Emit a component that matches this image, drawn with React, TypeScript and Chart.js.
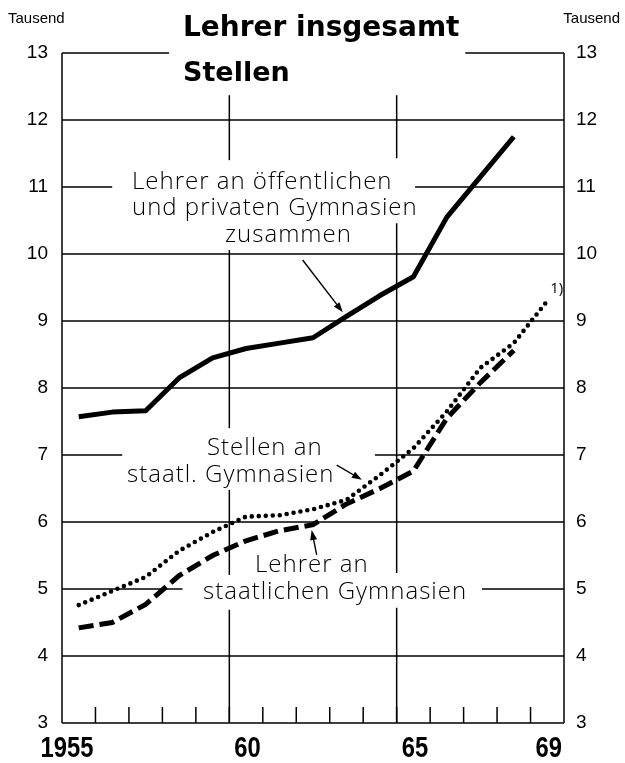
import React, { useEffect, useRef } from "react";
import { Chart, registerables } from "chart.js";

Chart.register(...registerables);

// ---- data (thousands) ----
const years = [1955, 1956, 1957, 1958, 1959, 1960, 1961, 1962, 1963, 1964, 1965, 1966, 1967, 1968, 1969];
const totalTeachers = [7.57, 7.64, 7.66, 8.15, 8.45, 8.59, 8.67, 8.75, 9.07, 9.38, 9.66, 10.55, 11.15, 11.75];
const stateTeachers = [4.42, 4.5, 4.77, 5.2, 5.5, 5.72, 5.87, 5.96, 6.27, 6.5, 6.76, 7.55, 8.08, 8.56];
const statePositions = [4.76, 4.97, 5.18, 5.57, 5.85, 6.08, 6.1, 6.19, 6.33, 6.7, 7.1, 7.65, 8.3, 8.67, 9.3];
const yTicks = [3, 4, 5, 6, 7, 8, 9, 10, 11, 12, 13];
const xLabelYears = [1955, 1960, 1965, 1969];
const xLabelTexts = ["1955", "60", "65", "69"];
const unitLabel = "Tausend";
const titleMain = "Lehrer insgesamt";
const titleSub = "Stellen";

const toPoints = (vals: number[]) => vals.map((v, i) => ({ x: years[i] + 0.5, y: v }));

// grid gaps (value units)
const hGaps: Record<number, [number, number][]> = {
  13: [[1958.2, 1967.05]],
  11: [[1956.5, 1965.55]],
  7: [[1956.8, 1964.35]],
  5: [[1958.6, 1967.55]],
};
const vLines = [
  { year: 1960, top: 12.37, gaps: [[10.06, 11.4], [6.48, 7.4], [4.69, 5.21]] as [number, number][] },
  { year: 1965, top: 12.37, gaps: [[10.46, 11.43], [4.72, 5.24]] as [number, number][] },
];

const NOTE_FONT = "'Open Sans', 'DejaVu Sans', sans-serif";
const TITLE_FONT = "'DejaVu Sans', sans-serif";

const overlay = {
  id: "overlay",
  beforeDatasetsDraw(chart: any) {
    const ctx = chart.ctx as CanvasRenderingContext2D;
    const xs = chart.scales.x;
    const ys = chart.scales.y;
    const px = (v: number) => xs.getPixelForValue(v);
    const py = (v: number) => ys.getPixelForValue(v);
    ctx.save();
    ctx.strokeStyle = "#000";
    ctx.lineWidth = 1.5;
    ctx.lineCap = "butt";
    const xmin = xs.min, xmax = xs.max;
    yTicks.forEach((t) => {
      const gaps = hGaps[t] || [];
      let start = xmin;
      const segs: [number, number][] = [];
      gaps.forEach(([a, b]) => { segs.push([start, a]); start = b; });
      segs.push([start, xmax]);
      segs.forEach(([a, b]) => {
        ctx.beginPath();
        ctx.moveTo(px(a), py(t));
        ctx.lineTo(px(b), py(t));
        ctx.stroke();
      });
    });
    [xmin, xmax].forEach((x) => {
      ctx.beginPath();
      ctx.moveTo(px(x), py(13));
      ctx.lineTo(px(x), py(3));
      ctx.stroke();
    });
    vLines.forEach((l) => {
      let top = l.top;
      const segs: [number, number][] = [];
      const gaps = [...l.gaps].sort((a, b) => b[1] - a[1]);
      gaps.forEach(([lo, hi]) => { segs.push([top, hi]); top = lo; });
      segs.push([top, 3]);
      segs.forEach(([a, b]) => {
        ctx.beginPath();
        ctx.moveTo(px(l.year), py(a));
        ctx.lineTo(px(l.year), py(b));
        ctx.stroke();
      });
    });
    for (let yr = xmin + 1; yr < xmax; yr++) {
      ctx.beginPath();
      ctx.moveTo(px(yr), py(3));
      ctx.lineTo(px(yr), py(3) - 16);
      ctx.stroke();
    }
    ctx.restore();
  },
  afterDatasetsDraw(chart: any) {
    const ctx = chart.ctx as CanvasRenderingContext2D;
    const xs = chart.scales.x;
    const ys = chart.scales.y;
    const px = (v: number) => xs.getPixelForValue(v);
    const py = (v: number) => ys.getPixelForValue(v);
    const left = chart.chartArea.left;
    const right = chart.chartArea.right;
    ctx.save();
    ctx.fillStyle = "#000";
    ctx.textBaseline = "middle";

    ctx.font = `19px 'Liberation Sans', Arial, sans-serif`;
    yTicks.forEach((t) => {
      ctx.textAlign = "right";
      ctx.fillText(String(t), left - 14, py(t));
      ctx.textAlign = "left";
      ctx.fillText(String(t), right + 12, py(t));
    });

    ctx.font = `15px 'Liberation Sans', Arial, sans-serif`;
    ctx.textAlign = "left";
    ctx.fillText(unitLabel, 8, 19);
    ctx.textAlign = "right";
    ctx.fillText(unitLabel, 620, 19);

    ctx.font = `bold 28px ${TITLE_FONT}`;
    ctx.textAlign = "left";
    ctx.fillText(titleMain, 183, 29);
    ctx.font = `bold 27px ${TITLE_FONT}`;
    ctx.fillText(titleSub, 183, 74);

    ctx.font = `bold 29px 'Liberation Sans', Arial, sans-serif`;
    ctx.textAlign = "right";
    xLabelYears.forEach((yr, i) => {
      ctx.save();
      ctx.translate(px(yr + 1) - 2, py(3) + 26);
      ctx.scale(0.82, 1);
      ctx.fillText(xLabelTexts[i], 0, 0);
      ctx.restore();
    });

    ctx.font = `300 24px ${NOTE_FONT}`;
    (ctx as any).letterSpacing = "1px";
    ctx.textAlign = "left";
    const notes: [string, number, number][] = [
      ["Lehrer an öffentlichen", 132, 182],
      ["und privaten Gymnasien", 132, 208],
      ["zusammen", 225, 235],
      ["Stellen an", 207, 448],
      ["staatl. Gymnasien", 127, 475],
      ["Lehrer an", 255, 565],
      ["staatlichen Gymnasien", 203, 592],
    ];
    notes.forEach(([s, x, y]) => ctx.fillText(s, x, y));
    (ctx as any).letterSpacing = "0px";

    ctx.font = `15px ${NOTE_FONT}`;
    ctx.fillText("1)", px(1969.5) + 3, py(9.3) - 12);

    const arrow = (x1: number, y1: number, x2: number, y2: number) => {
      const ax = px(x1), ay = py(y1), bx = px(x2), by = py(y2);
      const ang = Math.atan2(by - ay, bx - ax);
      const hl = 10, hw = 3.5;
      ctx.beginPath();
      ctx.lineWidth = 1.4;
      ctx.moveTo(ax, ay);
      ctx.lineTo(bx - Math.cos(ang) * hl * 0.8, by - Math.sin(ang) * hl * 0.8);
      ctx.stroke();
      ctx.beginPath();
      ctx.moveTo(bx, by);
      ctx.lineTo(bx - Math.cos(ang) * hl - Math.sin(ang) * hw, by - Math.sin(ang) * hl + Math.cos(ang) * hw);
      ctx.lineTo(bx - Math.cos(ang) * hl + Math.sin(ang) * hw, by - Math.sin(ang) * hl - Math.cos(ang) * hw);
      ctx.closePath();
      ctx.fill();
    };
    ctx.strokeStyle = "#000";
    arrow(1962.19, 9.91, 1963.39, 9.13);
    arrow(1963.21, 6.85, 1963.96, 6.63);
    arrow(1962.61, 5.51, 1962.46, 5.88);
    ctx.restore();
  },
};

export default function App() {
  const ref = useRef<HTMLCanvasElement | null>(null);
  useEffect(() => {
    if (!ref.current) return;
    const chart = new Chart(ref.current, {
      type: "line",
      data: {
        datasets: [
          {
            data: toPoints(totalTeachers),
            borderColor: "#000",
            borderWidth: 5,
            pointRadius: 0,
            tension: 0,
            borderJoinStyle: "round",
          },
          {
            data: toPoints(stateTeachers),
            borderColor: "#000",
            borderWidth: 5,
            borderDash: [15, 6],
            pointRadius: 0,
            tension: 0,
          },
          {
            data: toPoints(statePositions),
            borderColor: "#000",
            borderWidth: 4.6,
            borderDash: [0, 7],
            borderCapStyle: "round",
            pointRadius: 0,
            tension: 0,
          },
        ],
      },
      options: {
        responsive: false,
        maintainAspectRatio: false,
        animation: false,
        devicePixelRatio: 1,
        layout: { padding: { left: 62, right: 61, top: 53, bottom: 40 } },
        plugins: { legend: { display: false }, tooltip: { enabled: false }, title: { display: false } },
        scales: {
          x: { type: "linear", min: 1955, max: 1970, display: false },
          y: { type: "linear", min: 3, max: 13, display: false },
        },
      },
      plugins: [overlay],
    } as any);
    return () => chart.destroy();
  }, []);
  return (
    <div style={{ position: "absolute", left: 0, top: 0, width: 625, height: 763, background: "#fff" }}>
      <canvas ref={ref} width={625} height={763} style={{ display: "block" }} />
    </div>
  );
}
